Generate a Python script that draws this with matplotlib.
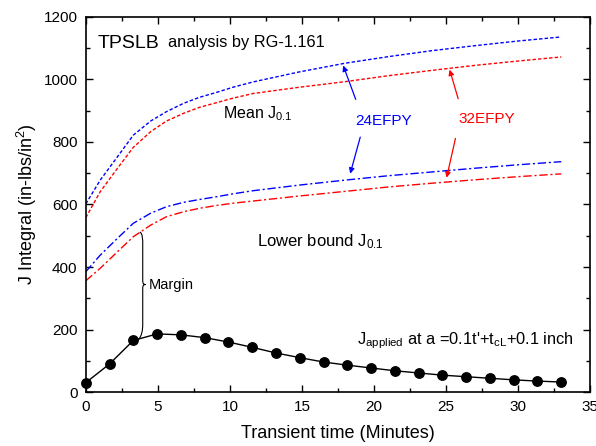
import numpy as np
import matplotlib
matplotlib.use("Agg")
import matplotlib.pyplot as plt
from matplotlib.path import Path
from matplotlib.patches import PathPatch

plt.rcParams['font.family'] = ['Liberation Sans', 'DejaVu Sans']
plt.rcParams['mathtext.fontset'] = 'custom'
plt.rcParams['mathtext.rm'] = 'Liberation Sans'
plt.rcParams['mathtext.it'] = 'Liberation Sans'

# J applied (markers)
t_app = [0, 1.65, 3.3, 4.95, 6.6, 8.25, 9.9, 11.55, 13.2, 14.85, 16.5,
         18.15, 19.8, 21.45, 23.1, 24.75, 26.4, 28.05, 29.7, 31.35, 33.0]
j_app = [30, 90, 165, 186, 183, 174, 160, 143, 125, 110, 96,
         86, 77, 68, 61, 54, 49, 44, 39, 35, 32]

# J0.1 curves (24 and 32 EFPY)
t_c = [0, 1, 2.2, 3.3, 4.5, 5.6, 6.8, 7.9, 9.1, 10.2, 11.6, 14.8,
       18, 21, 24, 27, 30, 33]
mean_24 = [602, 678, 753, 822, 867, 897, 924, 943, 959, 975, 992, 1024,
           1052, 1073, 1092, 1108, 1123, 1136]
mean_32 = [558, 641, 716, 783, 833, 867, 892, 911, 926, 940, 955, 975,
           993, 1012, 1029, 1045, 1059, 1072]
low_24 = [385, 438, 492, 540, 572, 593, 607, 616, 625, 634, 644, 662,
          678, 692, 704, 716, 727, 737]
low_32 = [356, 396, 449, 497, 534, 561, 577, 588, 597, 604, 611, 627,
          642, 656, 668, 679, 689, 698]

fig = plt.figure(figsize=(5.96, 4.46), dpi=100)
ax = fig.add_axes([0.144, 0.121, 0.846, 0.841])

ax.plot(t_c, mean_24, color='blue', ls=(0, (2.5, 1.5)), lw=1)
ax.plot(t_c, mean_32, color='red', ls=(0, (2.5, 1.5)), lw=1)
ax.plot(t_c, low_24, color='blue', ls=(0, (6, 2, 1.5, 2)), lw=1)
ax.plot(t_c, low_32, color='red', ls=(0, (6, 2, 1.5, 2)), lw=1)
ax.plot(t_app, j_app, color='black', lw=1, marker='o', ms=6.8, clip_on=False)

ax.set_xlim(0, 35)
ax.set_ylim(0, 1200)
ax.set_xticks(np.arange(0, 36, 5))
ax.set_xticks(np.arange(0, 35, 2.5), minor=True)
ax.set_yticks(np.arange(0, 1201, 200))
ax.set_yticks(np.arange(0, 1200, 100), minor=True)
ax.tick_params(which='both', direction='in', top=True, right=True, labelsize=11)
ax.tick_params(which='major', length=5, width=1)
ax.tick_params(which='minor', length=3, width=1)
ax.tick_params(axis='x', pad=6)
ax.tick_params(axis='y', pad=6)
for s in ax.spines.values():
    s.set_linewidth(1.2)

ax.set_xlabel('Transient time (Minutes)', fontsize=13, labelpad=8)
ax.set_ylabel('J Integral (in-lbs/in$^2$)', fontsize=13, labelpad=3)

ax.text(0.8, 1115, 'TPSLB', fontsize=14, va='center')
ax.text(5.7, 1118, 'analysis by RG-1.161', fontsize=11.8, va='center')
ax.text(9.5, 890, r'Mean J$_{0.1}$', fontsize=11.5, va='center')
ax.text(11.9, 480, r'Lower bound J$_{0.1}$', fontsize=12, va='center')
ax.text(18.7, 868, '24EFPY', fontsize=11, color='blue', va='center')
ax.text(25.9, 872, '32EFPY', fontsize=11, color='red', va='center')
ax.text(18.8, 165, r"J$_{\rm applied}$ at a =0.1t'+t$_{\rm cL}$+0.1 inch",
        fontsize=11.8, va='center')
ax.text(4.4, 342, 'Margin', fontsize=10.5, va='center')

arr = dict(arrowstyle='-|>', lw=0.9, mutation_scale=8)
ax.annotate('', xy=(17.8, 1053), xytext=(18.8, 928), arrowprops=dict(color='blue', **arr))
ax.annotate('', xy=(18.3, 690), xytext=(19.1, 824), arrowprops=dict(color='blue', **arr))
ax.annotate('', xy=(25.2, 1040), xytext=(25.9, 930), arrowprops=dict(color='red', **arr))
ax.annotate('', xy=(25.0, 677), xytext=(25.7, 820), arrowprops=dict(color='red', **arr))

# curly brace for margin
x0, y_top, y_bot, w = 3.75, 512, 176, 0.2
ym = (y_top + y_bot) / 2
verts = [(x0, y_top),
         (x0 + w, y_top - 5), (x0 + w, y_top - 25), (x0 + w, y_top - 40),
         (x0 + w, ym + 12),
         (x0 + w, ym + 4), (x0 + w + 0.05, ym), (x0 + 2 * w, ym),
         (x0 + w + 0.05, ym), (x0 + w, ym - 4), (x0 + w, ym - 12),
         (x0 + w, y_bot + 40),
         (x0 + w, y_bot + 25), (x0 + w - 0.05, y_bot + 3), (x0 - 0.1, y_bot - 8)]
codes = [Path.MOVETO,
         Path.CURVE4, Path.CURVE4, Path.CURVE4,
         Path.LINETO,
         Path.CURVE4, Path.CURVE4, Path.CURVE4,
         Path.CURVE4, Path.CURVE4, Path.CURVE4,
         Path.LINETO,
         Path.CURVE4, Path.CURVE4, Path.CURVE4]
ax.add_patch(PathPatch(Path(verts, codes), fill=False, lw=0.8, color='black'))

fig.savefig('out.png', dpi=100)
